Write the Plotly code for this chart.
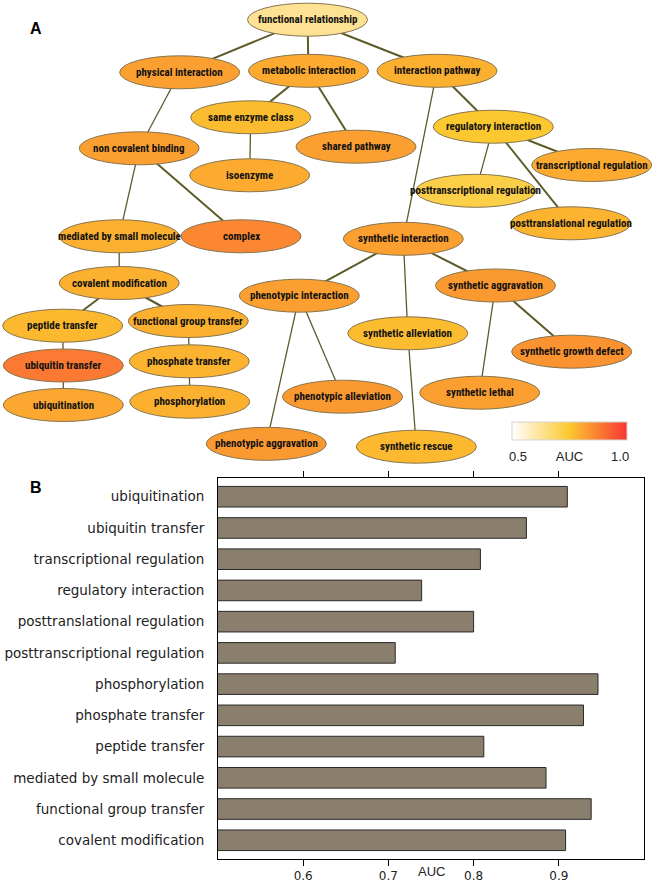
import plotly.graph_objects as go
from plotly.colors import sample_colorscale

W, H = 655, 882

# ---------------- Panel A: ontology network ----------------
node_names = [
    "functional relationship", "physical interaction", "metabolic interaction",
    "interaction pathway", "same enzyme class", "non covalent binding",
    "isoenzyme", "shared pathway", "regulatory interaction",
    "transcriptional regulation", "posttranscriptional regulation",
    "posttranslational regulation", "synthetic interaction",
    "synthetic aggravation", "phenotypic interaction", "synthetic alleviation",
    "synthetic growth defect", "phenotypic alleviation", "synthetic lethal",
    "synthetic rescue", "phenotypic aggravation", "mediated by small molecule",
    "complex", "covalent modification", "peptide transfer",
    "functional group transfer", "ubiquitin transfer", "phosphate transfer",
    "ubiquitination", "phosphorylation",
]
node_x = [307.5, 179.7, 308.5, 437.0, 250.7, 139.2, 249.7, 356.0, 493.3,
          591.7, 475.8, 570.8, 403.3, 495.5, 299.3, 407.8, 571.7, 342.5,
          479.7, 416.3, 266.3, 119.2, 241.0, 119.2, 62.7, 188.3, 63.3,
          189.3, 63.3, 189.7]
node_y = [19.7, 72.3, 70.8, 70.8, 117.3, 148.3, 175.3, 146.7, 126.7,
          165.0, 190.8, 223.3, 238.8, 285.5, 295.7, 333.3, 351.7, 396.7,
          392.7, 446.7, 443.8, 236.3, 236.3, 283.0, 325.7, 321.0, 365.5,
          361.3, 405.0, 401.7]
node_auc = [0.63, 0.82, 0.80, 0.79, 0.77, 0.82, 0.80, 0.82, 0.75,
            0.80, 0.72, 0.785, 0.82, 0.83, 0.82, 0.77, 0.84, 0.83,
            0.82, 0.775, 0.83, 0.79, 0.86, 0.79, 0.775, 0.79, 0.885,
            0.785, 0.805, 0.79]

edges_thick = [
    ("functional relationship", "physical interaction"),
    ("functional relationship", "metabolic interaction"),
    ("functional relationship", "interaction pathway"),
    ("metabolic interaction", "same enzyme class"),
    ("metabolic interaction", "shared pathway"),
    ("interaction pathway", "regulatory interaction"),
    ("regulatory interaction", "transcriptional regulation"),
    ("regulatory interaction", "posttranslational regulation"),
    ("non covalent binding", "complex"),
    ("covalent modification", "peptide transfer"),
    ("covalent modification", "functional group transfer"),
    ("synthetic interaction", "phenotypic interaction"),
    ("synthetic interaction", "synthetic aggravation"),
    ("synthetic aggravation", "synthetic growth defect"),
]
edges_thin = [
    ("physical interaction", "non covalent binding"),
    ("same enzyme class", "isoenzyme"),
    ("interaction pathway", "synthetic interaction"),
    ("regulatory interaction", "posttranscriptional regulation"),
    ("non covalent binding", "mediated by small molecule"),
    ("mediated by small molecule", "covalent modification"),
    ("peptide transfer", "ubiquitin transfer"),
    ("ubiquitin transfer", "ubiquitination"),
    ("functional group transfer", "phosphate transfer"),
    ("phosphate transfer", "phosphorylation"),
    ("synthetic interaction", "synthetic alleviation"),
    ("synthetic alleviation", "synthetic rescue"),
    ("synthetic aggravation", "synthetic lethal"),
    ("phenotypic interaction", "phenotypic aggravation"),
    ("phenotypic interaction", "phenotypic alleviation"),
]

# ---------------- Panel B: bar chart ----------------
bar_terms = [
    "ubiquitination", "ubiquitin transfer", "transcriptional regulation",
    "regulatory interaction", "posttranslational regulation",
    "posttranscriptional regulation", "phosphorylation", "phosphate transfer",
    "peptide transfer", "mediated by small molecule",
    "functional group transfer", "covalent modification",
]
bar_auc = [0.910, 0.862, 0.808, 0.739, 0.800, 0.708, 0.946, 0.929,
           0.812, 0.885, 0.938, 0.908]
x_ticks = [0.6, 0.7, 0.8, 0.9]

COLORSCALE = [[0.0, "#ffffff"], [0.5, "#fcc82f"], [1.0, "#fa3535"]]
NODE_FONT = "Roboto Condensed, Liberation Sans Narrow, Arial Narrow, Liberation Sans, sans-serif"

fig = go.Figure()

idx = {n: i for i, n in enumerate(node_names)}


def edge_xy(edges):
    xs, ys = [], []
    for a, b in edges:
        xs += [node_x[idx[a]], node_x[idx[b]], None]
        ys += [node_y[idx[a]], node_y[idx[b]], None]
    return xs, ys


for edges, w in [(edges_thick, 2.0), (edges_thin, 1.3)]:
    xs, ys = edge_xy(edges)
    fig.add_trace(go.Scatter(
        x=xs, y=ys, mode="lines", line=dict(color="#5e5b29", width=w),
        hoverinfo="skip", showlegend=False, xaxis="x", yaxis="y"))

# carrier trace for the colour scale (hidden beneath ellipses)
fig.add_trace(go.Scatter(
    x=node_x, y=node_y, mode="markers", showlegend=False, hoverinfo="skip",
    xaxis="x", yaxis="y",
    marker=dict(size=2, color=node_auc, colorscale=COLORSCALE, cmin=0.5,
                cmax=1.0, showscale=True,
                colorbar=dict(
                    orientation="h", x=569.5 / W, xanchor="center",
                    y=1 - 422 / H, yanchor="top", len=115, lenmode="pixels",
                    thickness=18, thicknessmode="pixels",
                    outlinecolor="#d4d4d4", outlinewidth=1,
                    tickvals=[0.526, 0.75, 0.97],
                    ticktext=["0.5", "AUC", "1.0"],
                    ticks="outside", ticklen=5, tickcolor="rgba(0,0,0,0)",
                    tickfont=dict(family="Liberation Sans", size=13,
                                  color="#222222"),
                    xpad=0, ypad=0))))

fills = sample_colorscale(COLORSCALE, [(v - 0.5) / 0.5 for v in node_auc])
for i, n in enumerate(node_names):
    fig.add_shape(type="circle", xref="x", yref="y",
                  x0=node_x[i] - 60, x1=node_x[i] + 60,
                  y0=node_y[i] - 16.5, y1=node_y[i] + 16.5,
                  fillcolor=fills[i], line=dict(color="#86754f", width=1),
                  layer="above")
    fig.add_annotation(x=node_x[i], y=node_y[i], xref="x", yref="y",
                       text=n, showarrow=False,
                       font=dict(family=NODE_FONT, size=11,
                                 color="#111111", weight="bold"))

fig.add_trace(go.Bar(
    y=bar_terms, x=bar_auc, orientation="h", width=0.66,
    marker=dict(color="#8a7e6c", line=dict(color="#2a2a2a", width=1)),
    xaxis="x2", yaxis="y2", showlegend=False, hoverinfo="skip"))

fig.add_annotation(x=0.75, y=1 - 871 / H, xref="x2", yref="paper",
                   text="AUC", showarrow=False, yanchor="middle",
                   font=dict(family="Liberation Sans", size=13,
                             color="#222222"))
for lab, ly in [("A", 28), ("B", 487)]:
    fig.add_annotation(x=36 / W, y=1 - ly / H, xref="paper", yref="paper",
                       text=f"<b>{lab}</b>", showarrow=False,
                       xanchor="center", yanchor="middle",
                       font=dict(family="Liberation Sans", size=16,
                                 color="black"))

fig.update_layout(
    width=W, height=H,
    margin=dict(l=0, r=0, t=0, b=0, autoexpand=False),
    paper_bgcolor="white", plot_bgcolor="rgba(0,0,0,0)",
    xaxis=dict(domain=[0, 1], range=[0, W], visible=False, fixedrange=True,
               automargin=False),
    yaxis=dict(domain=[0, 1], range=[H, 0], visible=False, fixedrange=True,
               automargin=False),
    xaxis2=dict(domain=[218 / W, 644 / W], anchor="y2", range=[0.5, 1.0],
                tickvals=x_ticks, ticktext=[f"{v:.1f}" for v in x_ticks],
                ticks="outside", ticklen=6, tickcolor="black",
                showline=True, linecolor="black", linewidth=1,
                mirror="ticks", showgrid=False, zeroline=False,
                automargin=False,
                tickfont=dict(family="DejaVu Sans", size=12,
                              color="#222222")),
    yaxis2=dict(domain=[(H - 859) / H, (H - 478) / H], anchor="x2",
                type="category", categoryorder="array",
                categoryarray=bar_terms, range=[11.6, -0.6],
                showline=True, linecolor="black", linewidth=1, mirror=True,
                ticks="", showgrid=False, zeroline=False, automargin=False,
                ticklabelstandoff=10,
                tickfont=dict(family="DejaVu Sans", size=13.5,
                              color="#222222")),
)

fig.write_html(
    "out.html",
    config={"displayModeBar": False},
    post_script="document.body.style.margin='0';document.body.style.overflow='hidden';",
)
